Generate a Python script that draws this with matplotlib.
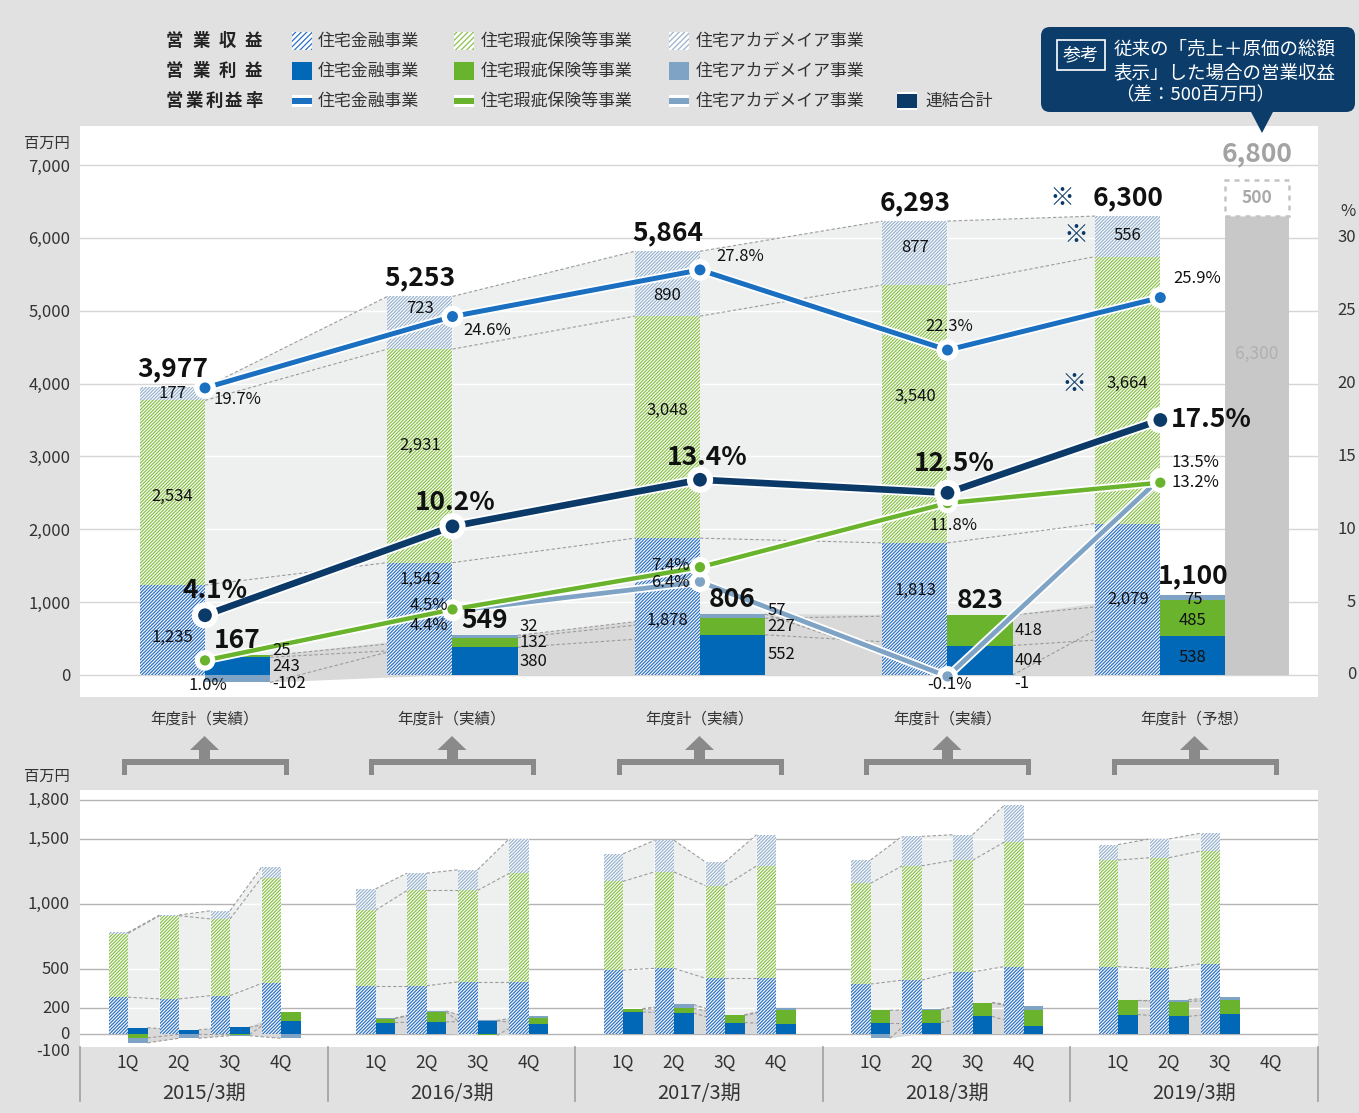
import numpy as np
import matplotlib
matplotlib.use('Agg')
import matplotlib.pyplot as plt
from matplotlib.patches import Rectangle, Polygon, FancyBboxPatch
import matplotlib.transforms as mtrans
import matplotlib.patheffects as pe

plt.rcParams['font.family'] = ['Noto Sans CJK JP', 'DejaVu Sans']
plt.rcParams['hatch.linewidth'] = 0.9
plt.rcParams['axes.unicode_minus'] = False

nan = np.nan

# ------------------------------------------------------------------ data
segments = ['住宅金融事業', '住宅瑕疵保険等事業', '住宅アカデメイア事業']
year_labels = ['2015/3期', '2016/3期', '2017/3期', '2018/3期', '2019/3期']
year_notes = ['年度計（実績）', '年度計（実績）', '年度計（実績）', '年度計（実績）', '年度計（予想）']
quarters = ['1Q', '2Q', '3Q', '4Q']

# annual operating revenue (百万円)
rev_fin = [1235, 1542, 1878, 1813, 2079]
rev_def = [2534, 2931, 3048, 3540, 3664]
rev_aca = [177, 723, 890, 877, 556]
rev_total = [3977, 5253, 5864, 6293, 6300]

# annual operating profit (百万円)
op_fin = [243, 380, 552, 404, 538]
op_def = [25, 132, 227, 418, 485]
op_aca = [-102, 32, 57, -1, 75]
op_total = [167, 549, 806, 823, 1100]

# operating margin (%)
mg_fin = [19.7, 24.6, 27.8, 22.3, 25.9]
mg_def = [1.0, 4.5, 7.4, 11.8, 13.2]
mg_aca = [nan, 4.4, 6.4, -0.1, 13.5]
mg_total = [4.1, 10.2, 13.4, 12.5, 17.5]

# reference: gross presentation
gross_rev = 6800
gross_base = 6300
gross_diff = 500

# quarterly (2015/3 1Q ... 2019/3 4Q)
q_rev_fin = [283, 270, 295, 389, 371, 371, 401, 401, 492, 505, 429, 429, 384, 414, 477, 518, 518, 505, 540, nan]
q_rev_def = [490, 640, 590, 814, 581, 733, 703, 834, 682, 742, 712, 864, 775, 879, 859, 957, 820, 851, 867, nan]
q_rev_aca = [8, 5, 63, 80, 164, 133, 159, 265, 212, 243, 182, 240, 179, 227, 197, 283, 119, 144, 138, nan]
q_op_fin = [48, 32, 52, 98, 88, 93, 101, 76, 169, 162, 88, 76, 88, 88, 136, 63, 149, 136, 157, nan]
q_op_def = [-30, -3, -5, 70, 30, 76, -10, 50, 23, 35, 56, 111, 94, 99, 106, 119, 109, 114, 108, nan]
q_op_aca = [-38, -30, -8, -33, 5, 8, 3, 16, 3, 30, 5, 12, -33, 2, 0, 33, 7, 15, 18, nan]

# ------------------------------------------------------------------ style
C_FIN = '#0068b7'
C_DEF = '#6ab42d'
C_ACA = '#7fa3c4'
C_NAVY = '#0b3a68'
H_FIN = '#2f72c4'
H_DEF = '#8cc24e'
H_ACA = '#9ab4ce'
BAND = '#eeefef'
PBAND = '#d9d9d9'
DASH = '#9c9c9c'
TXT = '#111111'
BG = '#e1e1e1'
HATCH = '//////////'
BRK = '#8a8a8a'
BIGW = 'bold'

W, H, DPI = 1359, 1113, 100
fig = plt.figure(figsize=(W / DPI, H / DPI), dpi=DPI, facecolor=BG)


def fax(l, t, r, b):
    return [l / W, 1 - b / H, (r - l) / W, (b - t) / H]


def stack_bottoms(series):
    pos = np.zeros(len(series[0]))
    neg = np.zeros(len(series[0]))
    bottoms = []
    for s in series:
        s = np.asarray(s, float)
        bottoms.append(np.where(s >= 0, pos, neg))
        pos = pos + np.where(s > 0, s, 0)
        neg = neg + np.where(s < 0, s, 0)
    return bottoms, pos, neg


def band(axis, pts, color, z, grid_vals):
    poly = Polygon(pts, closed=True, fc=color, ec='none', zorder=z)
    axis.add_patch(poly)
    for v in grid_vals:
        ln = axis.axhline(v, color='white', lw=1.0, zorder=z + 0.05)
        ln.set_clip_path(poly)
    return poly


# ================================================================== main chart
ax = fig.add_axes(fax(80, 126, 1318, 697))
ax.set_facecolor('white')
for s in ax.spines.values():
    s.set_visible(False)
ax.set_xlim(-0.505, 4.497)
ax.set_ylim(-302, 7535)
yt = list(range(0, 7001, 1000))
ax.set_yticks(yt)
ax.set_yticklabels([f'{v:,}' for v in yt])
ax.tick_params(axis='y', length=0, pad=7, labelsize=12, labelcolor='#333333')
ax.set_xticks([])
for v in yt:
    ax.axhline(v, color='#d6d6d6', lw=1.0, zorder=0.5)

PCT = 200.0  # 1% on the right axis = 200 on the left axis
n = len(rev_fin)
xc = np.arange(n, dtype=float)
xc[-1] -= 0.14
w = 0.263

rf, rd, ra = (np.array(a, float) for a in (rev_fin, rev_def, rev_aca))
rev_levels = [rf, rf + rd, rf + rd + ra]

op_series = [np.array(a, float) for a in (op_fin, op_def, op_aca)]
obots, opos, oneg = stack_bottoms(op_series)
op_levels = [b + s for b, s in zip(obots, op_series)]

# flow bands
for i in range(n - 1):
    x0, x1 = xc[i], xc[i + 1] - w
    top = rev_levels[2]
    band(ax, [(x0, 0), (x0, top[i]), (x1, top[i + 1]), (x1, 0)], BAND, 1, yt[1:])
    for lv in rev_levels:
        ax.plot([x0, x1], [lv[i], lv[i + 1]], ls=(0, (3, 2)), color=DASH, lw=0.8, zorder=1.1)
    p0, p1 = xc[i] + w, xc[i + 1]
    band(ax, [(p0, oneg[i]), (p0, opos[i]), (p1, opos[i + 1]), (p1, oneg[i + 1])], PBAND, 1.5, yt[1:])
    for lv in op_levels:
        ax.plot([p0, p1], [lv[i], lv[i + 1]], ls=(0, (3, 2)), color=DASH, lw=0.8, zorder=1.6)

# revenue bars (hatched)
for vals, bot, hc in [(rf, 0, H_FIN), (rd, rf, H_DEF), (ra, rf + rd, H_ACA)]:
    ax.bar(xc - w, vals, w, bottom=bot, align='edge', color='white', edgecolor=hc,
           linewidth=0, hatch=HATCH, zorder=3)

# profit bars (solid)
for vals, bot, c in zip(op_series, obots, [C_FIN, C_DEF, C_ACA]):
    ax.bar(xc, vals, w, bottom=bot, align='edge', color=c, linewidth=0, zorder=3)

# reference gross bar
gx = xc[-1] + w
ax.bar([gx], [gross_base], w * 0.97, align='edge', color='#c8c8c8', linewidth=0, zorder=3)
ax.add_patch(Rectangle((gx, gross_base), w * 0.97, gross_diff, fc='white', ec='#c4c4c4',
                       lw=1.8, ls=(0, (2, 2)), zorder=3))
ax.text(gx + w * 0.485, gross_base + gross_diff / 2, f'{gross_diff:,}', ha='center', va='center',
        fontsize=12.5, color='#a8a8a8', zorder=6, fontweight='bold')
ax.annotate(f'{gross_rev:,}', (gx + w * 0.485, gross_rev), xytext=(0, 12), textcoords='offset pixels',
            ha='center', va='bottom', fontsize=19, color='#a3a3a3', zorder=6, fontweight=BIGW)
ax.text(gx + w * 0.485, gross_base * 0.70, f'{gross_base:,}', ha='center', va='center',
        fontsize=12.5, color='#b0b0b0', zorder=6)


# margin lines
def mline(vals, color, lw, ms, z):
    y = np.array(vals, float) * PCT
    ax.plot(xc, y, color=color, lw=lw, marker='o', ms=ms, mfc=color, mec='white', mew=1.6,
            zorder=z, solid_capstyle='butt',
            path_effects=[pe.Stroke(linewidth=lw + 2.6, foreground='white'), pe.Normal()])


mline(mg_aca, C_ACA, 3.4, 9, 7)
mline(mg_def, C_DEF, 3.2, 9, 7.2)
mline(mg_fin, '#1a6fc0', 3.6, 9.5, 7.4)
mline(mg_total, C_NAVY, 4.8, 11.5, 7.6)


def lab(x, y, s, size=12, dx=0, dy=0, ha='center', va='center', color=TXT, weight='normal', z=9):
    ax.annotate(s, (x, y), xytext=(dx, dy), textcoords='offset pixels', ha=ha, va=va,
                fontsize=size, color=color, fontweight=weight, zorder=z)


# revenue labels
fin_frac = [0.42, 0.85, 0.40, 0.64, 0.50]
def_frac = [0.48, 0.55, 0.577, 0.566, 0.523]
aca_frac = [0.5, 0.78, 0.32, 0.59, 0.53]
rx = xc - w / 2
for i in range(n):
    lab(rx[i], rf[i] * fin_frac[i], f'{rev_fin[i]:,}')
    lab(rx[i], rf[i] + rd[i] * def_frac[i], f'{rev_def[i]:,}')
    lab(rx[i], rf[i] + rd[i] + ra[i] * aca_frac[i], f'{rev_aca[i]:,}')
    lab(rx[i], rev_levels[2][i], f'{rev_total[i]:,}', size=19, dy=5, va='bottom', weight=BIGW)
# forecast markers
lab(rx[-1], rev_levels[2][-1], '※', size=18, dx=-66, dy=5, va='bottom', color=C_NAVY)
lab(rx[-1], rf[-1] + rd[-1] + ra[-1] * aca_frac[-1], '※', size=18, dx=-52, color=C_NAVY)
lab(rx[-1], rf[-1] + rd[-1] * def_frac[-1], '※', size=18, dx=-54, color=C_NAVY)

# profit labels
px = xc + w
SEP = 215
tot_dy = [1, 1, 1, 1, 6]
for i in range(n):
    lab(xc[i] + w / 2, opos[i], f'{op_total[i]:,}', size=19, dy=tot_dy[i], va='bottom', weight=BIGW)
    y_fin = op_fin[i] / 2
    y_def = max(op_levels[0][i] + op_def[i] / 2, y_fin + SEP)
    if op_aca[i] >= 0:
        y_aca = max(op_levels[1][i] + op_aca[i] / 2, y_def + SEP)
    else:
        y_aca = -110
    if i < n - 1:
        for v, yy in zip([op_fin[i], op_def[i], op_aca[i]], [y_fin, y_def, y_aca]):
            lab(px[i], yy, f'{v:,}', ha='left', dx=2)
    else:
        for v, yy in zip([op_fin[i], op_def[i], op_aca[i]], [y_fin, y_def, y_aca]):
            lab(xc[i] + w / 2, yy, f'{v:,}', dy=-2)

# margin labels (pixel offsets right/down)
off_fin = [(32, 12), (35, 14), (40, -13), (2, -24), (37, -19)]
off_def = [(3, 25), (-24, -4), (-30, -2), (6, 22), (35, 0)]
off_aca = [(0, 0), (-24, 15), (-30, 1), (2, 8), (35, -16)]
off_tot = [(10, -25), (3, -24), (7, -22), (7, -29), (51, 0)]
for i in range(n):
    lab(xc[i], mg_fin[i] * PCT, f'{mg_fin[i]}%', dx=off_fin[i][0], dy=-off_fin[i][1])
    lab(xc[i], mg_def[i] * PCT, f'{mg_def[i]}%', dx=off_def[i][0], dy=-off_def[i][1])
    if not np.isnan(mg_aca[i]):
        lab(xc[i], mg_aca[i] * PCT, f'{mg_aca[i]}%', dx=off_aca[i][0], dy=-off_aca[i][1])
    lab(xc[i], mg_total[i] * PCT, f'{mg_total[i]}%', size=19, dx=off_tot[i][0], dy=-off_tot[i][1],
        weight=BIGW)

# right % axis labels
tr = mtrans.blended_transform_factory(ax.transAxes, ax.transData)
for p in range(0, 31, 5):
    ax.text(1.0307, p * PCT, str(p), transform=tr, ha='right', va='center', fontsize=12,
            color='#333333', clip_on=False)
ax.text(1.0242, 31.8 * PCT, '%', transform=tr, ha='center', va='center', fontsize=12,
        color='#333333', clip_on=False)

# ================================================================== quarterly chart
ax2 = fig.add_axes(fax(80, 790, 1318, 1047))
ax2.set_facecolor('white')
for s in ax2.spines.values():
    s.set_visible(False)
ax2.set_xlim(0, 1238)
ax2.set_ylim(-100, 1877)
qt = [-100, 0, 200, 500, 1000, 1500, 1800]
ax2.set_yticks([])
ax2.set_xticks([])
tl = mtrans.blended_transform_factory(ax2.transAxes, ax2.transData)
for v in qt:
    ax2.annotate(f'{v:,}', (-0.0081, v), xycoords=tl, xytext=(0, -5 if v < 0 else 0),
                 textcoords='offset pixels', ha='right', va='center', fontsize=12,
                 color='#333333', annotation_clip=False)
for v in qt[1:]:
    ax2.axhline(v, color='#b4b4b4', lw=1.0, zorder=0.5)

GROUP, QSTEP, OFF, bw = 247.5, 51.0, 48.0, 19.5
qx = np.array([OFF + g * GROUP + q * QSTEP for g in range(len(year_labels)) for q in range(4)])

qrf, qrd, qra = (np.array(a, float) for a in (q_rev_fin, q_rev_def, q_rev_aca))
q_levels = [qrf, qrf + qrd, qrf + qrd + qra]
q_ops = [np.array(a, float) for a in (q_op_fin, q_op_def, q_op_aca)]
qb, qpos, qneg = stack_bottoms(q_ops)
q_oplv = [b + s for b, s in zip(qb, q_ops)]
ok = np.isfinite(qrf)

for g in range(len(year_labels)):
    for q in range(3):
        i, j = 4 * g + q, 4 * g + q + 1
        if not (ok[i] and ok[j]):
            continue
        x0, x1 = qx[i], qx[j] - bw
        top = q_levels[2]
        band(ax2, [(x0, 0), (x0, top[i]), (x1, top[j]), (x1, 0)], BAND, 1, qt[2:])
        for lv in q_levels:
            ax2.plot([x0, x1], [lv[i], lv[j]], ls=(0, (3, 2)), color=DASH, lw=0.8, zorder=1.1)
        p0, p1 = qx[i] + bw, qx[j]
        band(ax2, [(p0, qneg[i]), (p0, qpos[i]), (p1, qpos[j]), (p1, qneg[j])], PBAND, 1.5, qt[2:])
        for lv in q_oplv:
            ax2.plot([p0, p1], [lv[i], lv[j]], ls=(0, (3, 2)), color=DASH, lw=0.8, zorder=1.6)

for vals, bot, hc in [(qrf, np.zeros_like(qrf), H_FIN), (qrd, qrf, H_DEF), (qra, qrf + qrd, H_ACA)]:
    ax2.bar(qx[ok] - bw, vals[ok], bw, bottom=bot[ok], align='edge', color='white', edgecolor=hc,
            linewidth=0, hatch=HATCH, zorder=3)
for vals, bot, c in zip(q_ops, qb, [C_FIN, C_DEF, C_ACA]):
    ax2.bar(qx[ok], vals[ok], bw, bottom=bot[ok], align='edge', color=c, linewidth=0, zorder=3)

tq = mtrans.blended_transform_factory(ax2.transData, ax2.transAxes)
for k, x in enumerate(qx):
    ax2.text(x, -0.062, quarters[k % 4], transform=tq, ha='center', va='center', fontsize=12.5,
             color='#333333', clip_on=False)
for g, yl in enumerate(year_labels):
    ax2.text(OFF + g * GROUP + 1.5 * QSTEP, -0.18, yl, transform=tq, ha='center', va='center',
             fontsize=14.5, color='#333333', clip_on=False)
for g in range(len(year_labels) + 1):
    ax2.plot([g * GROUP, g * GROUP], [0, -0.21], transform=tq, color='#a0a0a0', lw=1.2, clip_on=False)

# ================================================================== overlay (legend, callout, brackets)
ov = fig.add_axes([0, 0, 1, 1])
ov.set_xlim(0, W)
ov.set_ylim(H, 0)
ov.axis('off')
ov.set_zorder(10)

ov.text(47, 143, '百万円', ha='center', va='center', fontsize=11, color='#333333')
ov.text(47, 776, '百万円', ha='center', va='center', fontsize=11, color='#333333')

rows_y = [41, 71, 101]
headers = ['営業収益', '営業利益', '営業利益率']
for ry, hd in zip(rows_y, headers):
    nch = len(hd)
    step = (262 - 166 - 17) / (nch - 1)
    for k, ch in enumerate(hd):
        ov.text(166 + 8.5 + k * step, ry, ch, ha='center', va='center', fontsize=12.5,
                fontweight='bold', color='#222222')

sw_x = [292, 454, 669]
tx_x = [318, 481, 696]
hcols = [H_FIN, H_DEF, H_ACA]
scols = [C_FIN, C_DEF, C_ACA]
lcols = ['#1a6fc0', C_DEF, C_ACA]
for k in range(3):
    ov.add_patch(Rectangle((sw_x[k], rows_y[0] - 9), 20, 18, fc='white', ec=hcols[k], lw=0, hatch='//////'))
    ov.text(tx_x[k], rows_y[0], segments[k], ha='left', va='center', fontsize=12.2, color='#333333')
    ov.add_patch(Rectangle((sw_x[k], rows_y[1] - 9), 20, 18, fc=scols[k], ec='none'))
    ov.text(tx_x[k], rows_y[1], segments[k], ha='left', va='center', fontsize=12.2, color='#333333')
    ov.add_patch(Rectangle((sw_x[k], rows_y[2] - 6), 20, 12, fc='white', ec='none'))
    ov.add_patch(Rectangle((sw_x[k], rows_y[2] - 3), 20, 6, fc=lcols[k], ec='none'))
    ov.text(tx_x[k], rows_y[2], segments[k], ha='left', va='center', fontsize=12.2, color='#333333')
ov.add_patch(Rectangle((897, rows_y[2] - 9), 20, 18, fc='white', ec='none'))
ov.add_patch(Rectangle((897, rows_y[2] - 7), 20, 14, fc=C_NAVY, ec='none'))
ov.text(925, rows_y[2], '連結合計', ha='left', va='center', fontsize=12.2, color='#333333')

C_CALL = '#0b3c6a'
ov.add_patch(FancyBboxPatch((1041, 27), 314, 85, boxstyle='round,pad=0,rounding_size=9',
                            fc=C_CALL, ec='none'))
ov.add_patch(Polygon([(1250, 110), (1274, 110), (1262, 133)], closed=True, fc=C_CALL, ec='none'))
ov.add_patch(Rectangle((1057, 40), 48, 30, fill=False, ec='white', lw=1.2))
ov.text(1081, 55, '参考', ha='center', va='center', fontsize=13, color='white')
ov.text(1114, 50, '従来の「売上＋原価の総額', ha='left', va='center', fontsize=13.3, color='white')
ov.text(1114, 73, '表示」した場合の営業収益', ha='left', va='center', fontsize=13.3, color='white')
ov.text(1195, 95, '（差：500百万円）', ha='center', va='center', fontsize=13.3, color='white')

for i, note in enumerate(year_notes):
    cx = 80 + OFF + i * GROUP + 1.5 * QSTEP
    ov.text(cx, 719, note, ha='center', va='center', fontsize=11.2, color='#333333')
    ov.add_patch(Rectangle((cx - 83, 759), 167, 6, fc=BRK, ec='none'))
    ov.add_patch(Rectangle((cx - 83, 759), 5, 16, fc=BRK, ec='none'))
    ov.add_patch(Rectangle((cx + 79, 759), 5, 16, fc=BRK, ec='none'))
    ov.add_patch(Rectangle((cx - 5.5, 748), 11, 12, fc=BRK, ec='none'))
    ov.add_patch(Polygon([(cx - 14.5, 750), (cx + 14.5, 750), (cx, 736)], closed=True, fc=BRK, ec='none'))

fig.savefig('out.png', dpi=DPI, facecolor=BG)
